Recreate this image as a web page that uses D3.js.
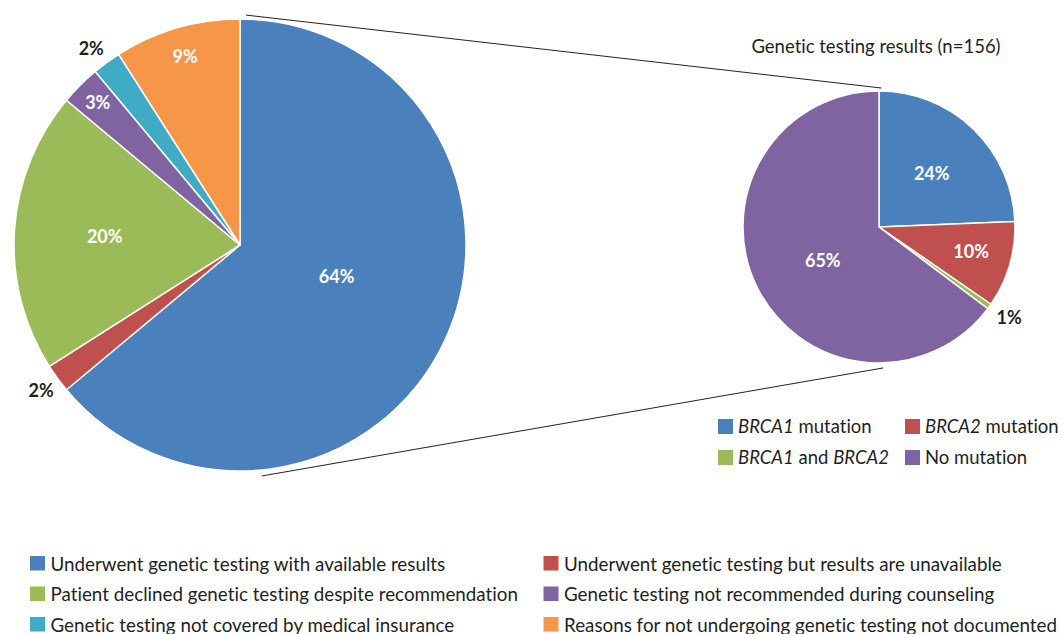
<!DOCTYPE html>
<html><head><meta charset="utf-8">
<script src="https://cdn.jsdelivr.net/npm/d3@7"></script>
<style>body{margin:0;background:#fff} text{font-variant-ligatures:none;font-feature-settings:"liga" 0,"clig" 0}</style>
</head><body><svg id="c" width="1064" height="634"></svg>
<script>
// ---- data ----
const mainCategories = [
  "Underwent genetic testing with available results",
  "Underwent genetic testing but results are unavailable",
  "Patient declined genetic testing despite recommendation",
  "Genetic testing not recommended during counseling",
  "Genetic testing not covered by medical insurance",
  "Reasons for not undergoing genetic testing not documented"
];
const mainValues = [156, 5, 49, 7, 5, 22];
const mainLabels = ["64%", "2%", "20%", "3%", "2%", "9%"];

const resultTitle = "Genetic testing results (n=156)";
const resultCategories = [
  [["BRCA1", true], [" mutation", false]],
  [["BRCA2", true], [" mutation", false]],
  [["BRCA1", true], [" and ", false], ["BRCA2", true]],
  [["No mutation", false]]
];
const resultValues = [38, 16, 1, 101];
const resultLabels = ["24%", "10%", "1%", "65%"];

// ---- styles / layout ----
const mainColors = ["#4a81bd", "#c0504d", "#9bbb59", "#8064a2", "#3fabc4", "#f69649"];
const resultColors = ["#4a81bd", "#c0504d", "#9bbb59", "#8064a2"];
const mainLabelRadius = [0.45, 1.09, 0.6, 0.89, 1.09, 0.87];
const mainLabelShift = [-7, 0, 0, 0, -1, 0];
const mainLabelInside = [true, false, true, true, false, true];
const resultLabelRadius = [0.55, 0.70, 1.165, 0.48];
const resultLabelShift = [1, -1.5, -1, -4];
const resultLabelInside = [true, true, false, true];

const FONT = "Lato, 'Open Sans', sans-serif";
const TEXT = "#231f20";
const svg = d3.select("#c");

const big = {cx: 240, cy: 245, r: 226};
const small = {cx: 879, cy: 227, r: 136};

const pie = d3.pie().sort(null).value(d => d);
const rad = Math.PI / 180;
const polar = (c, ang, rr) => [c.cx + Math.sin(ang) * rr, c.cy - Math.cos(ang) * rr];

function drawPie(c, values, colors, labels, lr, ls, inside) {
  const arcs = pie(values);
  const arc = d3.arc().innerRadius(0).outerRadius(c.r);
  const g = svg.append("g").attr("transform", `translate(${c.cx},${c.cy})`);
  g.selectAll("path").data(arcs).join("path")
    .attr("d", arc)
    .attr("fill", (d, i) => colors[i])
    .attr("stroke", "#fff").attr("stroke-width", 1.5).attr("stroke-linejoin", "round");
  g.selectAll("text").data(arcs).join("text")
    .attr("x", (d, i) => Math.sin((d.startAngle + d.endAngle) / 2 + ls[i] * rad) * c.r * lr[i])
    .attr("y", (d, i) => -Math.cos((d.startAngle + d.endAngle) / 2 + ls[i] * rad) * c.r * lr[i])
    .attr("dy", "0.36em")
    .attr("text-anchor", "middle")
    .attr("font-family", FONT).attr("font-weight", "bold").attr("font-size", 18)
    .attr("fill", (d, i) => inside[i] ? "#fff" : TEXT)
    .text((d, i) => labels[i]);
}

// connector lines (drawn under pies)
const conn = svg.append("g").attr("stroke", "#222").attr("stroke-width", 1);
const t1 = polar(big, 1.5 * rad, big.r + 4), t2 = polar(small, 1 * rad, small.r + 3);
const b1 = polar(big, 174.6 * rad, big.r + 6), b2 = polar(small, 178.3 * rad, small.r + 5);
conn.append("line").attr("x1", t1[0]).attr("y1", t1[1]).attr("x2", t2[0]).attr("y2", t2[1]);
conn.append("line").attr("x1", b1[0]).attr("y1", b1[1]).attr("x2", b2[0]).attr("y2", b2[1]);

drawPie(big, mainValues, mainColors, mainLabels, mainLabelRadius, mainLabelShift, mainLabelInside);
drawPie(small, resultValues, resultColors, resultLabels, resultLabelRadius, resultLabelShift, resultLabelInside);

// title of small pie
svg.append("text").attr("x", 876).attr("y", 53).attr("text-anchor", "middle")
  .attr("font-family", FONT).attr("font-size", 18.5).attr("fill", TEXT).text(resultTitle);

// small legend
const sl = svg.append("g");
resultCategories.forEach((segs, i) => {
  const col = i % 2, row = Math.floor(i / 2);
  const x = 718 + col * 187, y = 419 + row * 31;
  sl.append("rect").attr("x", x).attr("y", y).attr("width", 15).attr("height", 15).attr("fill", resultColors[i]);
  const t = sl.append("text").attr("x", x + 20).attr("y", y + 14)
    .attr("font-family", FONT).attr("font-size", 18.5).attr("fill", TEXT);
  segs.forEach(s => t.append("tspan").attr("font-style", s[1] ? "italic" : "normal").text(s[0]));
});

// bottom legend
const bl = svg.append("g");
mainCategories.forEach((name, i) => {
  const col = i % 2, row = Math.floor(i / 2);
  const x = 30 + col * 513.5, y = 556 + row * 30.5;
  bl.append("rect").attr("x", x).attr("y", y).attr("width", 15).attr("height", 14.5).attr("fill", mainColors[i]);
  bl.append("text").attr("x", x + 20.5).attr("y", y + 14.5)
    .attr("font-family", FONT).attr("font-size", 18.8).attr("fill", TEXT).text(name);
});
</script></body></html>
